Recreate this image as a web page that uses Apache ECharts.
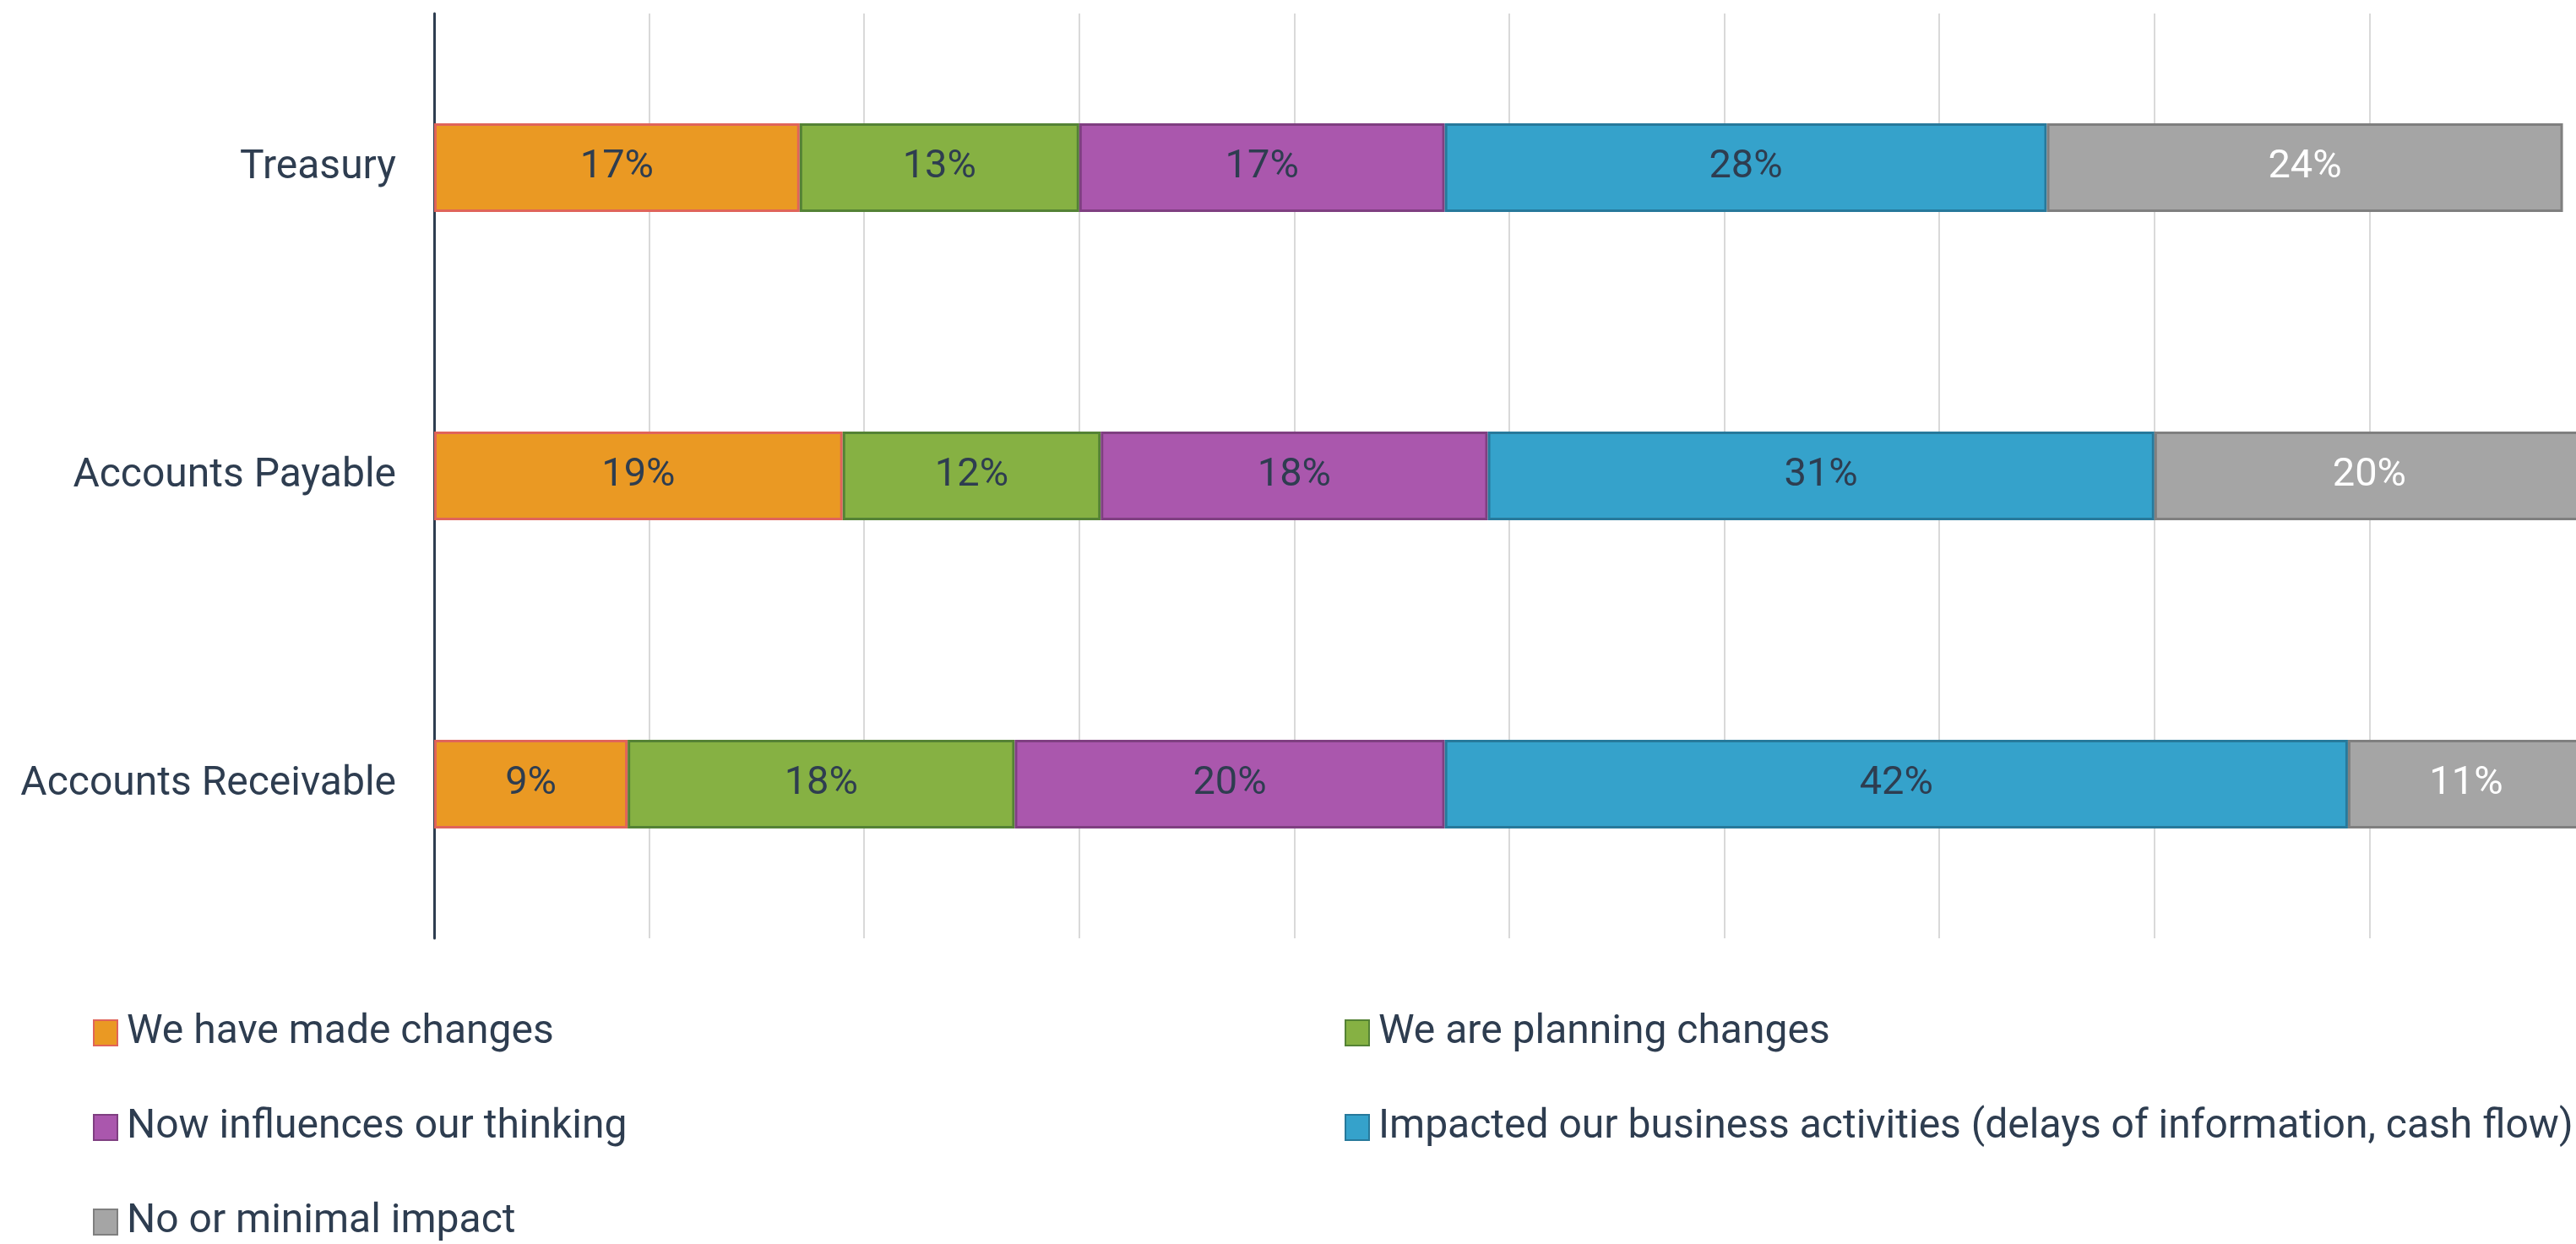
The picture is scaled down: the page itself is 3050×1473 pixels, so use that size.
<!DOCTYPE html>
<html>
<head>
<meta charset="utf-8">
<title>Impact by function</title>
<script src="https://cdn.jsdelivr.net/npm/echarts@6/dist/echarts.min.js"></script>
<style>
  html, body { margin: 0; padding: 0; background: #ffffff; }
  #chart { width: 3050px; height: 1473px; }
</style>
</head>
<body>
<div id="chart"></div>
<script>
// Functions shown on the vertical axis, top to bottom
const categories = ['Treasury', 'Accounts Payable', 'Accounts Receivable'];

// Response shares (%) for each function
const madeChanges        = [17, 19, 9];
const planningChanges    = [13, 12, 18];
const influencesThinking = [17, 18, 20];
const impactedActivities = [28, 31, 42];
const minimalImpact      = [24, 20, 11];

const seriesNames = [
  'We have made changes',
  'We are planning changes',
  'Now influences our thinking',
  'Impacted our business activities (delays of information, cash flow)',
  'No or minimal impact'
];

const seriesValues = [madeChanges, planningChanges, influencesThinking, impactedActivities, minimalImpact];

const fills   = ['#EA9923', '#86B143', '#AA57AD', '#35A2CB', '#A5A5A5'];
const borders = ['#E0645A', '#548235', '#7F3F81', '#27799B', '#7F7F7F'];
const labelColors = ['#2E3D50', '#2E3D50', '#2E3D50', '#2E3D50', '#FFFFFF'];

const TEXT = '#2E3D50';
const FONT = 'Roboto';

const chart = echarts.init(document.getElementById('chart'), null, { renderer: 'canvas' });

const series = seriesNames.map((name, i) => ({
  name: name,
  type: 'bar',
  stack: 'total',
  barWidth: 105,
  data: seriesValues[i],
  itemStyle: {
    color: fills[i],
    borderColor: borders[i],
    borderWidth: 3
  },
  label: {
    show: true,
    position: 'inside',
    formatter: '{c}%',
    color: labelColors[i],
    fontFamily: FONT,
    fontSize: 47
  },
  emphasis: { disabled: true }
}));

const legendText = {
  fontFamily: FONT,
  fontSize: 48,
  lineHeight: 56,
  color: TEXT,
  padding: [0, 0, 0, 6]
};

// Two stacked legend columns; explicit height keeps each column from wrapping
const legendBase = {
  type: 'plain',
  orient: 'vertical',
  top: 1195,
  height: 400,
  padding: 0,
  itemGap: 56,
  itemWidth: 28,
  itemHeight: 30,
  icon: 'rect',
  selectedMode: false,
  textStyle: legendText
};

chart.setOption({
  animation: false,
  backgroundColor: '#ffffff',
  grid: {
    left: 514,
    right: -10,
    top: 16,
    bottom: 362,
    outerBoundsMode: 'none',
    containLabel: false
  },
  xAxis: {
    type: 'value',
    min: 0,
    max: 100,
    interval: 10,
    axisLabel: { show: false },
    axisLine: { show: false },
    axisTick: { show: false },
    splitLine: { show: true, lineStyle: { color: '#D9D9D9', width: 2 } }
  },
  yAxis: {
    type: 'category',
    data: categories,
    inverse: true,
    axisLine: { show: true, lineStyle: { color: TEXT, width: 3 } },
    axisTick: { show: false },
    axisLabel: {
      margin: 45,
      color: TEXT,
      fontFamily: FONT,
      fontSize: 48,
      lineHeight: 60,
      padding: [6, 0, 0, 0]
    }
  },
  legend: [
    Object.assign({}, legendBase, {
      data: [seriesNames[0], seriesNames[2], seriesNames[4]],
      left: 110
    }),
    Object.assign({}, legendBase, {
      data: [seriesNames[1], seriesNames[3]],
      left: 1592
    })
  ],
  series: series
});
</script>
</body>
</html>
